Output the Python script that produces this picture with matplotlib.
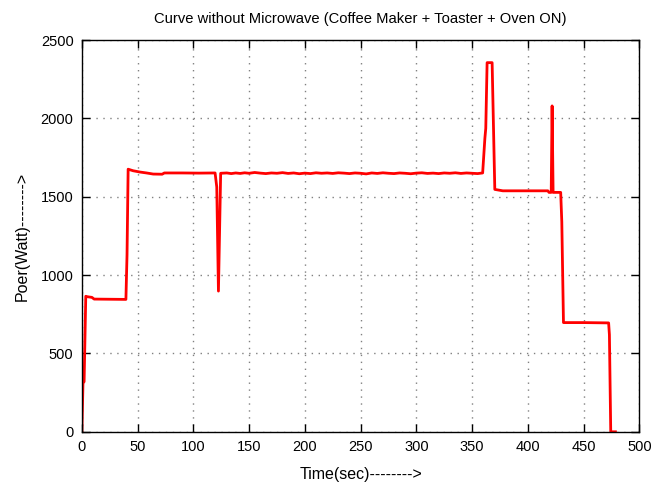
import matplotlib
matplotlib.use("Agg")
import matplotlib.pyplot as plt

# power trace
time = [0, 1, 2, 3.5, 5, 9, 11, 39.5, 40.5, 41.5, 46, 52, 58, 64, 72, 74, 90, 105, 119.5,
        121, 122.5, 124.5, 130, 134, 138, 142, 146, 150, 155, 160, 165, 170, 175, 180,
        185, 190, 195, 200, 205, 210, 215, 220, 225, 230, 235, 240, 245, 250, 255, 260,
        265, 270, 275, 280, 285, 290, 295, 300, 305, 310, 315, 320, 325, 330, 335, 340,
        345, 350, 355, 359.5, 361.5, 362.3, 363.5, 368, 370.4, 377.6, 400, 418, 419,
        421, 421.8, 422.7, 425, 429.5, 430.5, 432, 450, 472.5, 473.2, 474.4, 478.6]
power = [0, 310, 320, 865, 862, 858, 847, 845, 1130, 1676, 1666, 1658, 1652, 1645, 1644,
         1652, 1652, 1651, 1652, 1562, 898, 1650, 1652, 1648, 1652, 1649, 1653, 1650,
         1655, 1651, 1648, 1652, 1650, 1654, 1649, 1652, 1647, 1651, 1648, 1653, 1650,
         1652, 1649, 1653, 1651, 1648, 1652, 1650, 1646, 1652, 1649, 1653, 1650, 1648,
         1652, 1650, 1647, 1651, 1653, 1649, 1651, 1648, 1652, 1650, 1653, 1649, 1652,
         1650, 1648, 1652, 1873, 1937, 2356, 2356, 1547, 1538, 1538, 1538, 1528,
         1528, 2080, 1528, 1528, 1528, 1340, 697, 697, 695, 620, 0, 0]

xticks = [0, 50, 100, 150, 200, 250, 300, 350, 400, 450, 500]
yticks = [0, 500, 1000, 1500, 2000, 2500]

plt.rcParams['font.family'] = ['Liberation Sans', 'DejaVu Sans']
plt.rcParams['font.size'] = 10.5

fig = plt.figure(figsize=(6.55, 4.83), dpi=100)
ax = fig.add_axes([0.125, 0.106, 0.851, 0.811])

ax.plot(time, power, color="red", linewidth=2)

ax.set_xlim(0, 500)
ax.set_ylim(0, 2500)
ax.set_xticks(xticks)
ax.set_yticks(yticks)
ax.grid(True, linestyle=(0, (1, 4)), color="gray", linewidth=1)
ax.tick_params(direction="in", top=True, right=True, length=6, width=1, pad=6)
for s in ax.spines.values():
    s.set_linewidth(1)

ax.set_title("Curve without Microwave (Coffee Maker + Toaster + Oven ON)", fontsize=10.6, pad=12)
ax.set_xlabel("Time(sec)-------->", fontsize=11.5, labelpad=9)
ax.set_ylabel("Poer(Watt)-------->", fontsize=11.5, labelpad=8)

fig.savefig("out.png", dpi=100)
